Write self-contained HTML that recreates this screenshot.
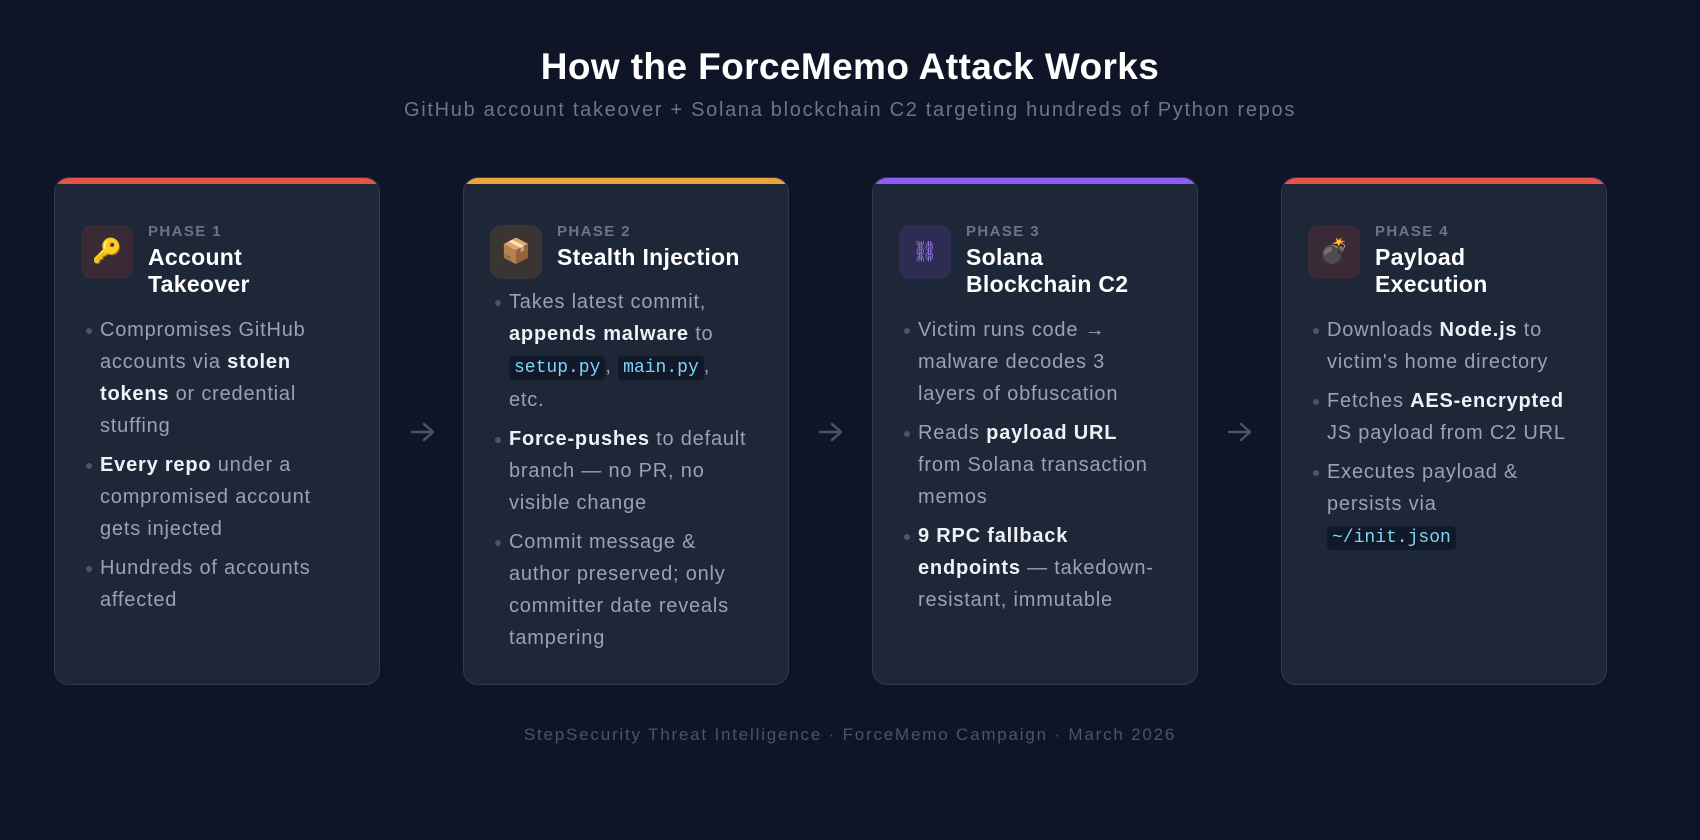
<!DOCTYPE html>
<html><head><meta charset="utf-8"><style>
*{margin:0;padding:0;box-sizing:border-box}
body{width:1700px;height:840px;background:#0f1526;font-family:"Liberation Sans","DejaVu Sans",sans-serif;position:relative;overflow:hidden}
.t{position:absolute;left:0;width:1700px;text-align:center;white-space:nowrap}
.sub{top:99px;font-size:20px;color:#6b7589;letter-spacing:1.7px}
.card{position:absolute;top:177px;width:326px;height:508px;background:#1e2738;border:1px solid #2f3a4e;border-radius:15px;overflow:hidden}
.card .bar{position:absolute;left:0;top:0;right:0;height:6px}
.icon{position:absolute;left:26px;top:47px;width:52px;height:54px;border-radius:11px;font-size:24px;text-align:center;line-height:54px}
.ph{position:absolute;left:93px;top:45px;font-size:15px;font-weight:bold;color:#6b7589;letter-spacing:1.4px}
.ti{position:absolute;left:93px;top:66px;font-size:23px;font-weight:bold;color:#fff;line-height:27px;letter-spacing:0.3px;white-space:nowrap}
ul{position:absolute;left:45px;top:136px;list-style:none;white-space:nowrap}
li{font-size:20px;color:#98a2b5;line-height:32px;position:relative;margin-bottom:7px;letter-spacing:0.8px}
li:before{content:"";position:absolute;left:-14px;top:14px;width:6px;height:6px;border-radius:50%;background:#4b5568}
b{color:#eef1f6}
code{font-family:"Liberation Mono",monospace;font-size:18px;letter-spacing:0;color:#7dd3fc;background:#111827;padding:2px 5px;border-radius:4px}
.arr{position:absolute;top:421px}
.foot{top:725px;font-size:17px;color:#4a5368;letter-spacing:1.8px}
</style></head><body>
<div class="t" style="top:46px;font-size:37px;font-weight:bold;color:#fff;letter-spacing:0.4px">How the ForceMemo Attack Works</div>
<div class="t sub">GitHub account takeover + Solana blockchain C2 targeting hundreds of Python repos</div>

<div class="card" style="left:54px"><div class="bar" style="background:#e5534b"></div>
<div class="icon" style="background:#3a2a36">🔑</div>
<div class="ph">PHASE 1</div><div class="ti">Account<br>Takeover</div>
<ul><li>Compromises GitHub<br>accounts via <b>stolen</b><br><b>tokens</b> or credential<br>stuffing</li>
<li><b>Every repo</b> under a<br>compromised account<br>gets injected</li>
<li>Hundreds of accounts<br>affected</li></ul></div>

<svg class="arr" style="left:410px" width="26" height="22" viewBox="0 0 26 22"><path d="M2 11H23M14 3l9 8-9 8" stroke="#4b5568" stroke-width="2.4" fill="none" stroke-linecap="round" stroke-linejoin="round"/></svg>

<div class="card" style="left:463px"><div class="bar" style="background:#eea23a"></div>
<div class="icon" style="background:#3a3433">📦</div>
<div class="ph">PHASE 2</div><div class="ti">Stealth Injection</div>
<ul style="top:108px"><li>Takes latest commit,<br><b>appends malware</b> to<br><code>setup.py</code>, <code>main.py</code>,<br>etc.</li>
<li><b>Force-pushes</b> to default<br>branch — no PR, no<br>visible change</li>
<li>Commit message &amp;<br>author preserved; only<br>committer date reveals<br>tampering</li></ul></div>

<svg class="arr" style="left:818px" width="26" height="22" viewBox="0 0 26 22"><path d="M2 11H23M14 3l9 8-9 8" stroke="#4b5568" stroke-width="2.4" fill="none" stroke-linecap="round" stroke-linejoin="round"/></svg>

<div class="card" style="left:872px"><div class="bar" style="background:#8b5cf6"></div>
<div class="icon" style="background:#2e2c52;color:#a78bfa;font-size:20px">⛓</div>
<div class="ph">PHASE 3</div><div class="ti">Solana<br>Blockchain C2</div>
<ul><li>Victim runs code →<br>malware decodes 3<br>layers of obfuscation</li>
<li>Reads <b>payload URL</b><br>from Solana transaction<br>memos</li>
<li><b>9 RPC fallback</b><br><b>endpoints</b> — takedown-<br>resistant, immutable</li></ul></div>

<svg class="arr" style="left:1227px" width="26" height="22" viewBox="0 0 26 22"><path d="M2 11H23M14 3l9 8-9 8" stroke="#4b5568" stroke-width="2.4" fill="none" stroke-linecap="round" stroke-linejoin="round"/></svg>

<div class="card" style="left:1281px"><div class="bar" style="background:#e5534b"></div>
<div class="icon" style="background:#3a2a36">💣</div>
<div class="ph">PHASE 4</div><div class="ti">Payload<br>Execution</div>
<ul><li>Downloads <b>Node.js</b> to<br>victim's home directory</li>
<li>Fetches <b>AES-encrypted</b><br>JS payload from C2 URL</li>
<li>Executes payload &amp;<br>persists via<br><code>~/init.json</code></li></ul></div>

<div class="t foot">StepSecurity Threat Intelligence · ForceMemo Campaign · March 2026</div>
</body></html>
